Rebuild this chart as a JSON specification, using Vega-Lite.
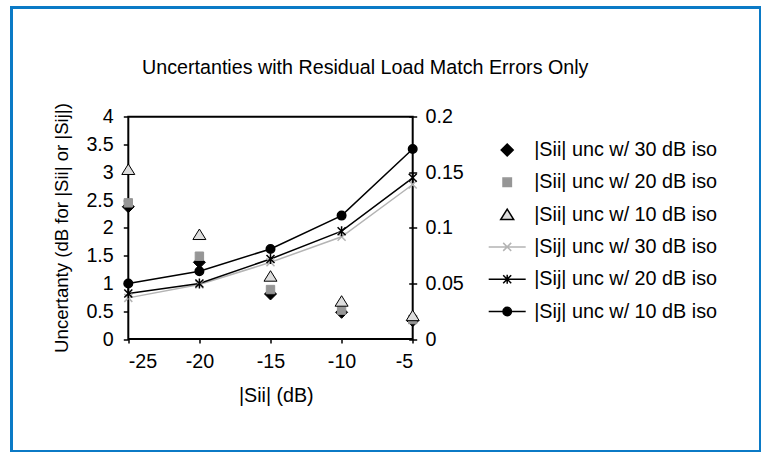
{
  "$schema": "https://vega.github.io/schema/vega-lite/v6.json",
  "width": 749,
  "height": 444,
  "autosize": {"type": "none"},
  "padding": {"left": 11.5, "top": 7.5, "right": 0, "bottom": 0},
  "background": "white",
  "config": {
    "view": {"stroke": "#0b7ac6", "strokeWidth": 3, "fill": "white"},
    "font": "Liberation Sans",
    "axis": {
      "labelFont": "Liberation Sans", "titleFont": "Liberation Sans",
      "labelColor": "#000", "titleColor": "#000", "tickColor": "#000",
      "domain": false, "grid": false, "titleFontWeight": "normal",
      "tickWidth": 1.5, "labelFontSize": 19.7, "titleFontSize": 19.7
    }
  },
  "title": {
    "text": "Uncertanties with Residual Load Match Errors Only",
    "anchor": "start", "frame": "group", "fontSize": 19.7, "fontWeight": "normal",
    "font": "Liberation Sans", "color": "#000", "baseline": "alphabetic",
    "offset": 0, "dx": 130.5, "dy": 86
  },
  "layer": [
    {
      "data": {"values": [
        {"series": "|Sii| unc w/ 30 dB iso", "s": -25, "u": 2.38},
        {"series": "|Sii| unc w/ 30 dB iso", "s": -20, "u": 1.38},
        {"series": "|Sii| unc w/ 30 dB iso", "s": -15, "u": 0.81},
        {"series": "|Sii| unc w/ 30 dB iso", "s": -10, "u": 0.48},
        {"series": "|Sii| unc w/ 30 dB iso", "s": -5, "u": 0.33},
        {"series": "|Sii| unc w/ 20 dB iso", "s": -25, "u": 2.45},
        {"series": "|Sii| unc w/ 20 dB iso", "s": -20, "u": 1.49},
        {"series": "|Sii| unc w/ 20 dB iso", "s": -15, "u": 0.89},
        {"series": "|Sii| unc w/ 20 dB iso", "s": -10, "u": 0.52},
        {"series": "|Sii| unc w/ 20 dB iso", "s": -5, "u": 0.35},
        {"series": "|Sii| unc w/ 10 dB iso", "s": -25, "u": 3.05},
        {"series": "|Sii| unc w/ 10 dB iso", "s": -20, "u": 1.88},
        {"series": "|Sii| unc w/ 10 dB iso", "s": -15, "u": 1.13},
        {"series": "|Sii| unc w/ 10 dB iso", "s": -10, "u": 0.68},
        {"series": "|Sii| unc w/ 10 dB iso", "s": -5, "u": 0.42}
      ]},
      "layer": [
        {
          "data": {"values": [{}]},
          "mark": {"type": "rect", "fill": "transparent", "stroke": "#000", "strokeWidth": 2},
          "encoding": {
            "x": {"datum": -25, "type": "quantitative", "scale": {"domain": [-25, -5], "range": [116.8, 401.2], "nice": false, "zero": false}},
            "x2": {"datum": -5},
            "y": {"datum": 0, "type": "quantitative", "scale": {"domain": [0, 4], "range": [331.5, 109.2], "nice": false, "zero": false}},
            "y2": {"datum": 4}
          }
        },
        {
          "mark": {"type": "point", "size": 400, "opacity": 1, "strokeWidth": 1},
          "encoding": {
            "x": {"field": "s", "type": "quantitative",
              "scale": {"domain": [-25, -5], "range": [116.8, 401.2], "nice": false, "zero": false},
              "axis": {"orient": "bottom", "offset": -112.5, "values": [-25, -20, -15, -10, -5], "labelExpr": "'' + datum.value", "tickSize": 4, "labelPadding": 8,
                "title": "|Sii| (dB)", "titleX": 264.3, "titleY": 62.7, "titleBaseline": "alphabetic", "titleAlign": "center", "titleAnchor": null}},
            "y": {"field": "u", "type": "quantitative",
              "scale": {"domain": [0, 4], "range": [331.5, 109.2], "nice": false, "zero": false},
              "axis": {"orient": "left", "offset": -116.8, "values": [0, 0.5, 1, 1.5, 2, 2.5, 3, 3.5, 4], "labelExpr": "'' + datum.value",
                "tickSize": 5, "labelPadding": 10,
                "title": "Uncertanty (dB for |Sii| or |Sij|)", "titleFontSize": 18.6, "titleAngle": -90,
                "titleX": -61.3, "titleY": 220, "titleBaseline": "alphabetic", "titleAlign": "center"}},
            "shape": {"field": "series", "type": "nominal",
              "scale": {"domain": ["|Sii| unc w/ 30 dB iso", "|Sii| unc w/ 20 dB iso", "|Sii| unc w/ 10 dB iso", "|Sij| unc w/ 30 dB iso", "|Sij| unc w/ 20 dB iso", "|Sij| unc w/ 10 dB iso"],
                "range": [
                  "M0,-0.6L0.6,0L0,0.6L-0.6,0Z",
                  "M-0.42,-0.42H0.42V0.42H-0.42Z",
                  "M0,-0.55L0.65,0.5L-0.65,0.5Z",
                  "M-1.85,0H1.85M-0.4,-0.4L0.4,0.4M-0.4,0.4L0.4,-0.4",
                  "M-1.85,0H1.85M-0.4,-0.4L0.4,0.4M-0.4,0.4L0.4,-0.4M0,-0.45V0.45",
                  "M-1.85,0H1.85M-0.42,0A0.42,0.42,0,1,0,0.42,0A0.42,0.42,0,1,0,-0.42,0Z"
                ]},
              "legend": {"orient": "none", "legendX": 484.7, "legendY": 131.5, "title": null, "symbolSize": 400, "symbolStrokeWidth": 1.5,
                "labelFontSize": 19.8, "labelFont": "Liberation Sans", "labelColor": "#000", "labelOffset": 16, "rowPadding": 11.3, "padding": 0, "labelLimit": 400}},
            "fill": {"field": "series", "type": "nominal",
              "scale": {"domain": ["|Sii| unc w/ 30 dB iso", "|Sii| unc w/ 20 dB iso", "|Sii| unc w/ 10 dB iso", "|Sij| unc w/ 30 dB iso", "|Sij| unc w/ 20 dB iso", "|Sij| unc w/ 10 dB iso"],
                "range": ["#000000", "#969696", "#dddddd", "transparent", "transparent", "#000000"]},
              "legend": {"orient": "none", "legendX": 484.7, "legendY": 131.5, "title": null, "symbolSize": 400, "symbolStrokeWidth": 1.5,
                "labelFontSize": 19.8, "labelFont": "Liberation Sans", "labelColor": "#000", "labelOffset": 16, "rowPadding": 11.3, "padding": 0, "labelLimit": 400}},
            "stroke": {"field": "series", "type": "nominal",
              "scale": {"domain": ["|Sii| unc w/ 30 dB iso", "|Sii| unc w/ 20 dB iso", "|Sii| unc w/ 10 dB iso", "|Sij| unc w/ 30 dB iso", "|Sij| unc w/ 20 dB iso", "|Sij| unc w/ 10 dB iso"],
                "range": ["#000000", "#969696", "#000000", "#b4b4b4", "#000000", "#000000"]},
              "legend": {"orient": "none", "legendX": 484.7, "legendY": 131.5, "title": null, "symbolSize": 400, "symbolStrokeWidth": 1.5,
                "labelFontSize": 19.8, "labelFont": "Liberation Sans", "labelColor": "#000", "labelOffset": 16, "rowPadding": 11.3, "padding": 0, "labelLimit": 400}}
          }
        }
      ]
    },
    {
      "data": {"values": [
        {"series": "|Sij| unc w/ 30 dB iso", "s": -25, "v": 0.037},
        {"series": "|Sij| unc w/ 30 dB iso", "s": -20, "v": 0.049},
        {"series": "|Sij| unc w/ 30 dB iso", "s": -15, "v": 0.069},
        {"series": "|Sij| unc w/ 30 dB iso", "s": -10, "v": 0.092},
        {"series": "|Sij| unc w/ 30 dB iso", "s": -5, "v": 0.139},
        {"series": "|Sij| unc w/ 20 dB iso", "s": -25, "v": 0.041},
        {"series": "|Sij| unc w/ 20 dB iso", "s": -20, "v": 0.050},
        {"series": "|Sij| unc w/ 20 dB iso", "s": -15, "v": 0.072},
        {"series": "|Sij| unc w/ 20 dB iso", "s": -10, "v": 0.097},
        {"series": "|Sij| unc w/ 20 dB iso", "s": -5, "v": 0.145},
        {"series": "|Sij| unc w/ 10 dB iso", "s": -25, "v": 0.050},
        {"series": "|Sij| unc w/ 10 dB iso", "s": -20, "v": 0.061},
        {"series": "|Sij| unc w/ 10 dB iso", "s": -15, "v": 0.081},
        {"series": "|Sij| unc w/ 10 dB iso", "s": -10, "v": 0.111},
        {"series": "|Sij| unc w/ 10 dB iso", "s": -5, "v": 0.171}
      ]},
      "encoding": {
        "x": {"field": "s", "type": "quantitative", "scale": {"domain": [-25, -5], "range": [116.8, 401.2], "nice": false, "zero": false}},
        "y": {"field": "v", "type": "quantitative",
          "scale": {"domain": [0, 0.2], "range": [331.5, 109.2], "nice": false, "zero": false},
          "axis": {"orient": "right", "offset": -351.8, "values": [0, 0.05, 0.1, 0.15, 0.2], "labelExpr": "'' + datum.value", "tickSize": 8, "labelPadding": 8.3, "title": null}}
      },
      "layer": [
        {
          "mark": {"type": "line", "strokeWidth": 1.5},
          "encoding": {
            "stroke": {"field": "series", "type": "nominal",
              "scale": {"domain": ["|Sij| unc w/ 30 dB iso", "|Sij| unc w/ 20 dB iso", "|Sij| unc w/ 10 dB iso"], "range": ["#b4b4b4", "#000000", "#000000"]},
              "legend": null}
          }
        },
        {
          "mark": {"type": "point", "size": 100, "opacity": 1, "strokeWidth": 1.5},
          "encoding": {
            "shape": {"field": "series", "type": "nominal",
              "scale": {"domain": ["|Sij| unc w/ 30 dB iso", "|Sij| unc w/ 20 dB iso", "|Sij| unc w/ 10 dB iso"],
                "range": [
                  "M-0.8,-0.8L0.8,0.8M-0.8,0.8L0.8,-0.8",
                  "M-0.8,-0.8L0.8,0.8M-0.8,0.8L0.8,-0.8M0,-1V1",
                  "M-0.85,0A0.85,0.85,0,1,0,0.85,0A0.85,0.85,0,1,0,-0.85,0Z"
                ]},
              "legend": null},
            "fill": {"field": "series", "type": "nominal",
              "scale": {"domain": ["|Sij| unc w/ 30 dB iso", "|Sij| unc w/ 20 dB iso", "|Sij| unc w/ 10 dB iso"], "range": ["transparent", "transparent", "#000000"]},
              "legend": null},
            "stroke": {"field": "series", "type": "nominal",
              "scale": {"domain": ["|Sij| unc w/ 30 dB iso", "|Sij| unc w/ 20 dB iso", "|Sij| unc w/ 10 dB iso"], "range": ["#b4b4b4", "#000000", "#000000"]},
              "legend": null}
          }
        }
      ]
    }
  ],
  "resolve": {
    "scale": {"y": "independent", "shape": "independent", "fill": "independent", "stroke": "independent"},
    "axis": {"y": "independent"},
    "legend": {"shape": "independent", "fill": "independent", "stroke": "independent"}
  }
}
